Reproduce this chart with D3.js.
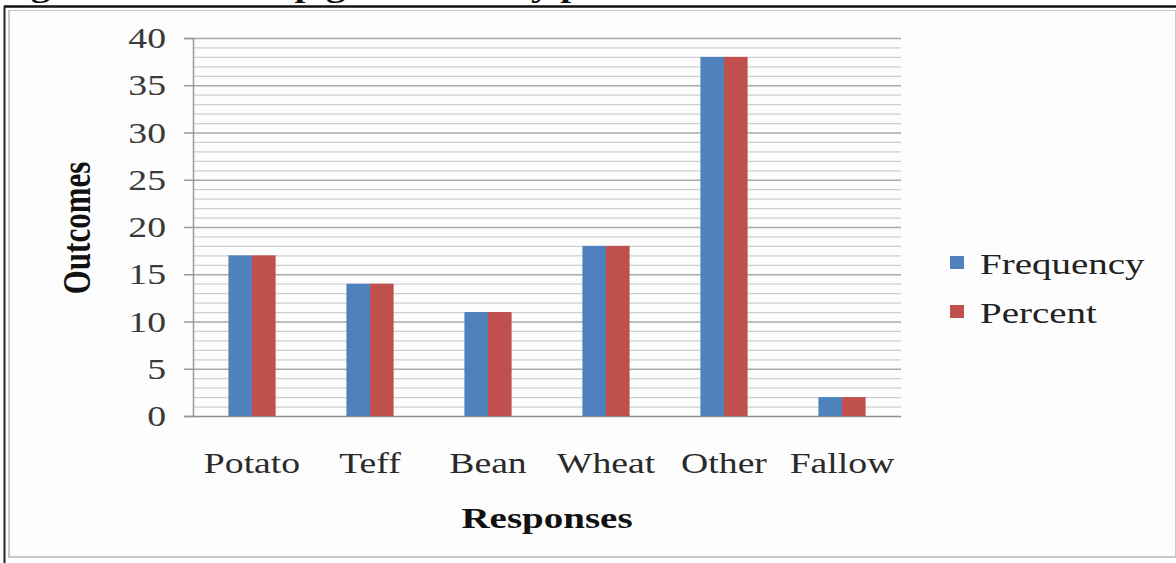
<!DOCTYPE html>
<html>
<head>
<meta charset="utf-8">
<script src="https://cdn.jsdelivr.net/npm/d3@7"></script>
<style>
  html, body { margin: 0; padding: 0; background: #ffffff; }
  svg { display: block; }
  text { font-family: "Liberation Serif", "Times New Roman", serif; }
</style>
</head>
<body>
<svg id="chart" width="1176" height="563"></svg>
<script>
// Cropping responses: frequency and percent per crop type
const categories = ["Potato", "Teff", "Bean", "Wheat", "Other", "Fallow"];
const frequency  = [17, 14, 11, 18, 38, 2];
const percent    = [17, 14, 11, 18, 38, 2];
const seriesNames = ["Frequency", "Percent"];
const seriesColors = ["#4f81bd", "#c0504d"];
const yTicks = [0, 5, 10, 15, 20, 25, 30, 35, 40];

const W = 1176, H = 563;
const plot = { left: 193, right: 901, top: 38, bottom: 416 };
const SX = 1.3; // horizontal stretch of lettering

const svg = d3.select("#chart");

// page background and frame
svg.append("rect").attr("width", W).attr("height", H).attr("fill", "#ffffff");
svg.append("rect").attr("x", 9).attr("y", 10).attr("width", W - 9).attr("height", H - 16)
  .attr("fill", "#fdfdfd").attr("stroke", "#c9c9c9").attr("stroke-width", 2);

// heading running off the top edge (only its descenders stay on the page)
svg.append("text").attr("transform", `translate(-4,-3) scale(${SX},1)`)
  .attr("font-size", 30).attr("font-weight", "bold").attr("fill", "#111")
  .text("Figure 3: Last crop grown last by previous");

svg.append("rect").attr("x", 0).attr("y", 6).attr("width", W).attr("height", 4).attr("fill", "#fdfdfd");
svg.append("line").attr("x1", 4).attr("x2", W).attr("y1", 6.5).attr("y2", 6.5)
  .attr("stroke", "#111").attr("stroke-width", 2.5);
svg.append("line").attr("x1", 4.5).attr("x2", 4.5).attr("y1", 6).attr("y2", H)
  .attr("stroke", "#222").attr("stroke-width", 2);

function stretchedText(g, x, y, str, opts) {
  const t = g.append("text")
    .attr("transform", `translate(${x},${y}) scale(${SX},1)`)
    .attr("font-size", opts.size)
    .attr("font-weight", opts.weight || "normal")
    .attr("fill", opts.fill || "#222")
    .attr("text-anchor", opts.anchor || "start")
    .text(str);
  return t;
}

const y = d3.scaleLinear().domain([0, 40]).range([plot.bottom, plot.top]);
const x = d3.scaleBand().domain(categories).range([plot.left, plot.right]).padding(0);
const groupW = x.bandwidth() / 2.5;
const xs = d3.scaleBand().domain(seriesNames).range([0, groupW]).padding(0);

// gridlines every unit, heavier at each labelled tick
const gridVals = d3.range(1, 41);
svg.append("g").selectAll("line").data(gridVals).join("line")
  .attr("x1", plot.left).attr("x2", plot.right)
  .attr("y1", d => y(d) + 0.5).attr("y2", d => y(d) + 0.5)
  .attr("stroke", d => d % 5 === 0 ? "#a9a9a9" : "#cfcfcf")
  .attr("stroke-width", d => d % 5 === 0 ? 1.6 : 1.3);

// y axis with outward ticks
const yAxis = svg.append("g").attr("transform", `translate(${plot.left},0)`)
  .call(d3.axisLeft(y).tickValues(yTicks).tickSize(9).tickFormat(""));
yAxis.select(".domain").attr("stroke", "#9a9a9a").attr("stroke-width", 1.5);
yAxis.selectAll(".tick line").attr("stroke", "#9a9a9a").attr("stroke-width", 1.5);

yTicks.forEach(v => {
  stretchedText(svg, 166, y(v) + 10, String(v), { size: 29, anchor: "end", fill: "#3a3a3a" });
});

// x axis baseline
svg.append("line").attr("x1", plot.left).attr("x2", plot.right)
  .attr("y1", plot.bottom + 0.5).attr("y2", plot.bottom + 0.5)
  .attr("stroke", "#8f8f8f").attr("stroke-width", 1.5);

// bars
const rows = categories.map((c, i) => ({ cat: c, values: [frequency[i], percent[i]] }));
const groups = svg.append("g").selectAll("g").data(rows).join("g")
  .attr("transform", d => `translate(${x(d.cat) + (x.bandwidth() - groupW) / 2},0)`);
groups.selectAll("rect").data(d => d.values.map((v, j) => ({ v, s: seriesNames[j], j })))
  .join("rect")
  .attr("x", d => xs(d.s))
  .attr("width", xs.bandwidth())
  .attr("y", d => y(d.v))
  .attr("height", d => y(0) - y(d.v))
  .attr("fill", d => seriesColors[d.j]);

// category labels
categories.forEach(c => {
  stretchedText(svg, x(c) + x.bandwidth() / 2, 473, c, { size: 29, anchor: "middle", fill: "#2a2a2a" });
});

// axis titles
stretchedText(svg, (plot.left + plot.right) / 2, 528, "Responses",
  { size: 30, weight: "bold", anchor: "middle", fill: "#111" });
svg.append("text")
  .attr("transform", `translate(90,228) scale(${SX},1) rotate(-90)`)
  .attr("font-size", 31).attr("font-weight", "bold").attr("fill", "#111")
  .attr("text-anchor", "middle")
  .text("Outcomes");

// legend
seriesNames.forEach((name, i) => {
  const ly = 262 + i * 49;
  svg.append("rect").attr("x", 950).attr("y", ly - 6).attr("width", 14).attr("height", 13)
    .attr("fill", seriesColors[i]);
  stretchedText(svg, 980, ly + 12, name, { size: 30, fill: "#222" });
});
</script>
</body>
</html>
